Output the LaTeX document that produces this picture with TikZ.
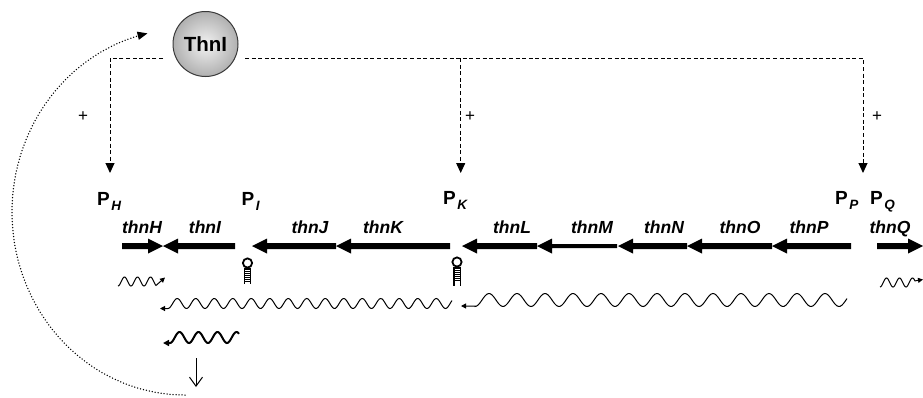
\documentclass[tikz,border=0pt]{standalone}
\usepackage{fontspec}
\setmainfont{Liberation Sans}
\usetikzlibrary{arrows.meta}
% gene arrow pointing left: tip x, tail x, half body width
\newcommand{\geneleft}[3]{\fill ({#1},246) -- ({#1+15},238.5) -- ({#1+15},{246-#3}) -- ({#2},{246-#3}) -- ({#2},{246+#3}) -- ({#1+15},{246+#3}) -- ({#1+15},253.5) -- cycle;}
\newcommand{\generight}[3]{\fill ({#1},246) -- ({#1-15},238.5) -- ({#1-15},{246-#3}) -- ({#2},{246-#3}) -- ({#2},{246+#3}) -- ({#1-15},{246+#3}) -- ({#1-15},253.5) -- cycle;}
% hairpin terminator: x, loop centre y, stem bottom y
\newcommand{\hairpin}[3]{%
  \draw[line width=1.8pt] ({#1},{#2}) circle[radius=4.6];
  \draw[line width=1.4pt] ({#1-3.2},{#2+4.6}) -- ({#1-3.2},{#3}) ({#1+3.2},{#2+4.6}) -- ({#1+3.2},{#3});
  \foreach \k in {0,2.1,...,14} {\draw[line width=1.1pt] ({#1-3.2},{#2+6+\k}) -- ({#1+3.2},{#2+6+\k});}
}
\begin{document}
\begin{tikzpicture}[x=1pt,y=-1pt,
  glabel/.style={font=\fontsize{17.5}{20}\selectfont\bfseries\itshape, anchor=base, inner sep=0pt},
  plabel/.style={font=\fontsize{19}{21}\selectfont\bfseries, anchor=base west, inner sep=0pt},
  reg/.style={line width=1pt, dash pattern=on 4pt off 2.6pt, -{Triangle[length=10pt,width=9pt]}},
  plus/.style={font=\fontsize{17}{18}\selectfont, inner sep=0pt},
  wave/.style={line width=1pt},
  dotarc/.style={line width=1.5pt, line cap=round, dash pattern=on 0pt off 3pt, -{Triangle[length=10pt,width=8pt]}}]
\useasboundingbox (0,0) rectangle (923,397);

% regulator
\node[circle, minimum size=65pt, inner sep=0pt, draw=gray!45!black, line width=1pt,
  shading=radial, inner color=gray!10, outer color=gray!62,
  font=\fontsize{20.5}{22}\selectfont\bfseries] (thni) at (205.5,44) {ThnI};

\coordinate (dl) at (163,58);
\coordinate (dr) at (245,58);
\coordinate (jK) at (460.7,58);
\coordinate (aH) at (110,173);
\coordinate (aK) at (460.7,173);
\coordinate (aP) at (863,173);
\draw[reg] (dl) -| (aH);
\draw[reg] (dr) -| (aP);
\draw[reg] (jK) -- (aK);

\node[plus] (plusH) at (83,117) {+};
\node[plus] (plusK) at (470,117) {+};
\node[plus] (plusP) at (877,117) {+};

% promoters
\node[plabel] (PH) at (97,205.5) {P\hspace{1.5pt}\raisebox{-4.5pt}{\fontsize{13.5}{15}\selectfont\itshape H}};
\node[plabel] (PI) at (241.5,205.5) {P\hspace{1.5pt}\raisebox{-4.5pt}{\fontsize{13.5}{15}\selectfont\itshape I}};
\node[plabel] (PK) at (443,204.5) {P\hspace{1.5pt}\raisebox{-4.5pt}{\fontsize{13.5}{15}\selectfont\itshape K}};
\node[plabel] (PP) at (835,204.5) {P\hspace{1.5pt}\raisebox{-4.5pt}{\fontsize{13.5}{15}\selectfont\itshape P}};
\node[plabel] (PQ) at (870,204.5) {P\hspace{1.5pt}\raisebox{-4.5pt}{\fontsize{13.5}{15}\selectfont\itshape Q}};

% genes
\generight{163}{122}{3}
\geneleft{163}{235}{3}
\geneleft{252}{336}{3}
\geneleft{336}{450}{3}
\geneleft{462}{537}{3}
\geneleft{537}{617}{2}
\geneleft{618}{687}{3}
\geneleft{687}{772}{3}
\geneleft{772}{851}{3}
\generight{923}{877}{3}

\node[glabel] (gH) at (142,233) {thnH};
\node[glabel] (gI) at (205,233) {thnI};
\node[glabel] (gJ) at (310,233) {thnJ};
\node[glabel] (gK) at (383,233) {thnK};
\node[glabel] (gL) at (512,233) {thnL};
\node[glabel] (gM) at (592,233) {thnM};
\node[glabel] (gN) at (664,233) {thnN};
\node[glabel] (gO) at (740,233) {thnO};
\node[glabel] (gP) at (809,233) {thnP};
\node[glabel] (gQ) at (890,233) {thnQ};

% terminators
\hairpin{247.5}{263}{284}
\hairpin{457}{262}{286}

% transcripts
\draw[wave, -{Triangle[length=5pt,width=5pt]}] plot[domain=118:156, samples=60] (\x,{281.5+4.5*cos((\x-118)/13*360)}) -- (165,277.5);
\draw[wave, -{Triangle[length=5pt,width=5pt]}] plot[domain=880:915, samples=60] (\x,{282.5+4.5*cos((\x-880)/13*360)}) -- (923,279.5);
\draw[wave, {Triangle[length=5pt,width=5pt]}-] (160,308.5) -- (168,308.5) -- plot[domain=168:452, samples=220] (\x,{303.5+5*cos((\x-168)/18.5*360)});
\draw[wave, {Triangle[length=5pt,width=5pt]}-] (461,306) -- (475,306) -- plot[domain=475:847, samples=220] (\x,{300+6.5*cos((\x-475)/28*360)});
\draw[line width=2pt, {Triangle[length=6pt,width=6pt]}-] (163,343) -- (170,343) -- plot[domain=170:239, samples=80] (\x,{337.5+5.5*cos((\x-170)/19*360)});

% feedback
\coordinate (dT) at (196,358);
\coordinate (dB) at (196,387);
\draw[line width=1pt, -{Straight Barb[length=9pt,width=13pt]}] (dT) -- (dB);
\draw[dotarc] plot[domain=90:257.5, samples=120] ({185+173*cos(\x)},{212+183*sin(\x)});
\end{tikzpicture}
\end{document}
